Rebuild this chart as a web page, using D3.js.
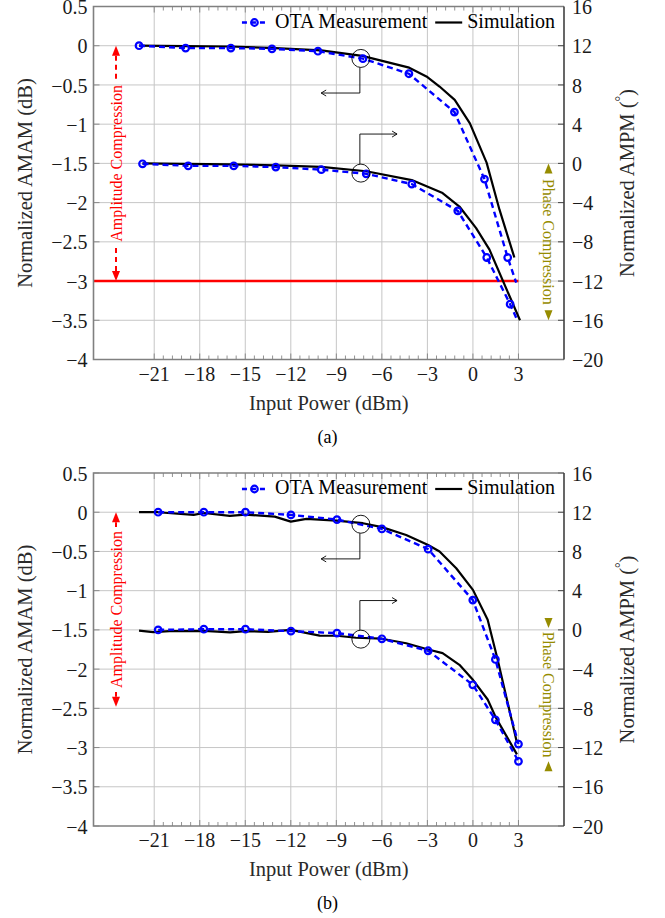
<!DOCTYPE html>
<html><head><meta charset="utf-8">
<script src="https://cdn.jsdelivr.net/npm/d3@7"></script>
<style>body{margin:0;background:#fff}svg{display:block}
svg text{font-family:"Liberation Serif","Tinos","Times New Roman","DejaVu Serif",serif;}</style>
</head><body>
<script>
// ---------- data ----------
const xTicks = [-21, -18, -15, -12, -9, -6, -3, 0, 3];
const amamTicks = [0.5, 0, -0.5, -1, -1.5, -2, -2.5, -3, -3.5, -4];
const ampmTicks = [16, 12, 8, 4, 0, -4, -8, -12, -16, -20];
const legendLabels = ["OTA Measurement", "Simulation"];

// Panel (a)
const aAmamMeas = [[-22.0,0],[-18.93,-0.03],[-15.95,-0.03],[-13.24,-0.04],[-10.21,-0.07],[-7.25,-0.165],[-4.22,-0.357],[-1.22,-0.846],[0.76,-1.70],[2.29,-2.70]];
const aAmamMeasTail = [[2.85,-3.02]];
const aAmamSim = [[-22,0],[-19,-0.005],[-16,-0.01],[-13,-0.03],[-10,-0.06],[-7.3,-0.13],[-4.2,-0.28],[-3,-0.4],[-2.2,-0.52],[-1.2,-0.69],[-0.2,-0.99],[0.9,-1.49],[1.75,-2.09],[2.73,-2.70]];
const aAmpmMeas = [[-21.77,-0.04],[-18.76,-0.25],[-15.76,-0.25],[-12.99,-0.38],[-9.99,-0.64],[-7.03,-1.06],[-4.03,-2.11],[-1.0,-4.84],[0.91,-9.6],[2.45,-14.36]];
const aAmpmMeasTail = [[2.95,-16.1]];
const aAmpmSim = [[-21.77,0],[-19,-0.05],[-16,-0.1],[-13,-0.2],[-10,-0.35],[-7.03,-0.8],[-4.03,-1.7],[-2,-3.03],[-0.89,-4.4],[0.21,-6.6],[1.09,-8.8],[3.1,-16]];

// Panel (b)
const bAmamMeas = [[-20.74,0],[-17.73,0],[-14.99,0],[-11.99,-0.034],[-8.96,-0.094],[-6.0,-0.213],[-2.95,-0.471],[-0.01,-1.12],[1.48,-1.877],[3.0,-2.955]];
const bAmamSim = [[-22,0],[-20.74,0],[-18.4,-0.034],[-17.73,-0.01],[-16.02,-0.047],[-14.99,-0.03],[-13.06,-0.056],[-12.0,-0.12],[-10.97,-0.085],[-9,-0.107],[-7.25,-0.14],[-6,-0.19],[-4.4,-0.29],[-2.95,-0.417],[-2.2,-0.50],[-1.1,-0.714],[0,-0.99],[0.97,-1.372],[1.63,-1.88],[2.9,-2.94]];
const bAmpmMeas = [[-20.74,0],[-17.73,0.07],[-14.99,0.07],[-11.99,-0.13],[-8.96,-0.33],[-6.0,-0.91],[-2.95,-2.13],[-0.01,-5.6],[1.48,-9.17],[3.0,-13.4]];
const bAmpmSim = [[-22,-0.08],[-21.07,-0.23],[-20,-0.12],[-17.7,-0.1],[-16,-0.25],[-15,-0.12],[-13.5,-0.2],[-12,0],[-10.1,-0.58],[-8.96,-0.6],[-7.7,-0.8],[-6,-0.9],[-4.4,-1.36],[-2.95,-2.0],[-2,-2.37],[-0.89,-3.56],[0,-5.09],[0.97,-7.1],[1.53,-9.0],[2.9,-12.7]];

// annotation anchors (data units)
const compressionLevel = -3;           // red line in (a)
const aAmpArrow = [0, -3];            // dB
const aPhaseArrow = [0, -16];         // deg
const bAmpArrow = [0, -2.48];
const bPhaseArrow = [0, -13.4];
const aCircles = {x: -7.45, c1: -0.162, c2: -1.624, knee1: -0.603, knee2: -1.126, left: -10, right: -5};
const bCircles = {x: -7.45, c1: -0.153, c2: -1.618, knee1: -0.595, knee2: -1.126, left: -10, right: -5};

// ---------- layout ----------
const W = 665, H = 918;
const L = 93.5, R = 564, PH = 353;
const BLUE = "#0000ff", RED = "#ff0000", OLIVE = "#968c00";
const svg = d3.select("body").append("svg").attr("width", W).attr("height", H);

const fmt = d3.format("~g");
const minus = s => s.replace("-", "\u2212");

function panel(top, cfg) {
  const g = svg.append("g");
  const x = d3.scaleLinear().domain([-25, 6]).range([L, R]);
  const y = d3.scaleLinear().domain([-4, 0.5]).range([top + PH, top]);
  const y2 = d3.scaleLinear().domain([-20, 16]).range([top + PH, top]);
  const B = top + PH;

  // grid
  g.append("g").selectAll("line").data(xTicks).join("line")
    .attr("x1", d => x(d)).attr("x2", d => x(d)).attr("y1", top).attr("y2", B)
    .attr("stroke", "#c6c6c6").attr("stroke-width", 1);
  g.append("g").selectAll("line").data(amamTicks.slice(1, -1)).join("line")
    .attr("x1", L).attr("x2", R).attr("y1", d => y(d)).attr("y2", d => y(d))
    .attr("stroke", "#c6c6c6").attr("stroke-width", 1);

  // minor x ticks
  const minors = [];
  for (let i = 0; i < xTicks.length - 1; i++)
    for (let k = 1; k < 5; k++) minors.push(xTicks[i] + k * 0.6);
  const tk = g.append("g").attr("stroke", "#777").attr("stroke-width", 0.8);
  minors.forEach(m => {
    tk.append("line").attr("x1", x(m)).attr("x2", x(m)).attr("y1", B).attr("y2", B - 4);
    tk.append("line").attr("x1", x(m)).attr("x2", x(m)).attr("y1", top).attr("y2", top + 4);
  });
  xTicks.forEach(m => {
    tk.append("line").attr("x1", x(m)).attr("x2", x(m)).attr("y1", B).attr("y2", B - 6);
    tk.append("line").attr("x1", x(m)).attr("x2", x(m)).attr("y1", top).attr("y2", top + 6);
  });
  amamTicks.forEach(v => {
    tk.append("line").attr("x1", L).attr("x2", L + 6).attr("y1", y(v)).attr("y2", y(v));
  });
  ampmTicks.forEach(v => {
    g.append("line").attr("x1", R).attr("x2", R - 6).attr("y1", y2(v)).attr("y2", y2(v))
      .attr("stroke", "#444").attr("stroke-width", 1);
  });

  // red -3 dB line
  if (cfg.redLine) {
    g.append("line").attr("x1", x(-25)).attr("x2", x(3))
      .attr("y1", y(compressionLevel)).attr("y2", y(compressionLevel))
      .attr("stroke", RED).attr("stroke-width", 2.6);
  }

  const lineL = d3.line().x(d => x(d[0])).y(d => y(d[1]));
  const lineR = d3.line().x(d => x(d[0])).y(d => y2(d[1]));

  // simulation lines
  g.append("path").attr("d", lineL(cfg.amamSim)).attr("fill", "none")
    .attr("stroke", "#000").attr("stroke-width", 2.2).attr("stroke-linejoin", "round");
  g.append("path").attr("d", lineR(cfg.ampmSim)).attr("fill", "none")
    .attr("stroke", "#000").attr("stroke-width", 2.2).attr("stroke-linejoin", "round");

  // measured dashed lines
  g.append("path").attr("d", lineL(cfg.amamMeas.concat(cfg.amamTail || []))).attr("fill", "none")
    .attr("stroke", BLUE).attr("stroke-width", 2.4).attr("stroke-dasharray", "6,4");
  g.append("path").attr("d", lineR(cfg.ampmMeas.concat(cfg.ampmTail || []))).attr("fill", "none")
    .attr("stroke", BLUE).attr("stroke-width", 2.4).attr("stroke-dasharray", "6,4");

  // markers
  g.append("g").selectAll("circle").data(cfg.amamMeas).join("circle")
    .attr("cx", d => x(d[0])).attr("cy", d => y(d[1])).attr("r", 3.3)
    .attr("fill", "none").attr("stroke", BLUE).attr("stroke-width", 2.2);
  g.append("g").selectAll("circle").data(cfg.ampmMeas).join("circle")
    .attr("cx", d => x(d[0])).attr("cy", d => y2(d[1])).attr("r", 3.3)
    .attr("fill", "none").attr("stroke", BLUE).attr("stroke-width", 2.2);

  // circle annotations
  const c = cfg.circ, cr = 9, cx = x(c.x);
  const ann = g.append("g").attr("stroke", "#000").attr("stroke-width", 0.9).attr("fill", "none");
  ann.append("circle").attr("cx", cx + 1).attr("cy", y(c.c1)).attr("r", cr);
  ann.append("circle").attr("cx", cx + 1).attr("cy", y(c.c2)).attr("r", cr);
  ann.append("path").attr("d", `M${cx},${y(c.c1) + cr}V${y(c.knee1)}H${x(c.left)}`);
  ann.append("path").attr("d", `M${x(c.left) + 5},${y(c.knee1) - 3}L${x(c.left)},${y(c.knee1)}L${x(c.left) + 5},${y(c.knee1) + 3}`);
  ann.append("path").attr("d", `M${cx},${y(c.c2) - cr}V${y(c.knee2)}H${x(c.right)}`);
  ann.append("path").attr("d", `M${x(c.right) - 5},${y(c.knee2) - 3}L${x(c.right)},${y(c.knee2)}L${x(c.right) - 5},${y(c.knee2) + 3}`);

  // compression arrows
  function tri(px, tipY, dir, col) { // dir -1: points up, +1: points down
    g.append("path").attr("d", `M${px},${tipY}L${px - 4},${tipY - dir * 10}L${px + 4},${tipY - dir * 10}Z`).attr("fill", col);
  }
  function compArrow(px, yTop, yBot, label, col, rot, inward) {
    const t = g.append("text").text(label).attr("font-size", 16).attr("fill", col)
      .attr("dominant-baseline", "central").attr("text-anchor", "middle")
      .attr("transform", `translate(${px},${(yTop + yBot) / 2}) rotate(${rot})`);
    const len = t.node().getComputedTextLength();
    const tTop = (yTop + yBot) / 2 - len / 2 - 4, tBot = (yTop + yBot) / 2 + len / 2 + 4;
    if (inward) {
      tri(px, yTop, 1, col); tri(px, yBot, -1, col);
    } else {
      tri(px, yTop, -1, col); tri(px, yBot, 1, col);
      if (tTop - (yTop + 10) > 3)
        g.append("line").attr("x1", px).attr("x2", px).attr("y1", yTop + 10).attr("y2", tTop)
          .attr("stroke", col).attr("stroke-width", 2).attr("stroke-dasharray", "5,4");
      if ((yBot - 10) - tBot > 3)
        g.append("line").attr("x1", px).attr("x2", px).attr("y1", yBot - 10).attr("y2", tBot)
          .attr("stroke", col).attr("stroke-width", 2).attr("stroke-dasharray", "5,4");
    }
  }
  compArrow(116, y(cfg.ampArrow[0]), y(cfg.ampArrow[1]), "Amplitude Compression", RED, -90, false);
  compArrow(548.5, y2(cfg.phaseArrow[0]) - (cfg.phaseInward ? 2 : 0), y2(cfg.phaseArrow[1]), "Phase Compression", OLIVE, 90, cfg.phaseInward);

  // frame
  g.append("path").attr("d", `M${R},${top}H${L}V${B}H${R}`).attr("fill", "none")
    .attr("stroke", "#808080").attr("stroke-width", 1.6);
  g.append("line").attr("x1", R).attr("x2", R).attr("y1", top).attr("y2", B)
    .attr("stroke", "#404040").attr("stroke-width", 1.6);

  // tick labels
  const tl = g.append("g").attr("font-size", 20).attr("fill", "#1a1a1a");
  xTicks.forEach(v => tl.append("text").attr("x", x(v)).attr("y", B + 21)
    .attr("text-anchor", "middle").text(minus(fmt(v))));
  amamTicks.forEach(v => tl.append("text").attr("x", L - 6).attr("y", y(v))
    .attr("dy", "0.38em").attr("text-anchor", "end").text(minus(fmt(v))));
  ampmTicks.forEach(v => tl.append("text").attr("x", R + 8).attr("y", y2(v))
    .attr("dy", "0.38em").attr("text-anchor", "start").text(minus(fmt(v))));

  // axis labels
  g.append("text").attr("x", (L + R) / 2).attr("y", B + 50).attr("text-anchor", "middle")
    .attr("font-size", 20.5).attr("fill", "#2a2a2a").text("Input Power (dBm)");
  g.append("text").attr("transform", `translate(25,${(top + B) / 2}) rotate(-90)`)
    .attr("text-anchor", "middle").attr("dominant-baseline", "central")
    .attr("font-size", 20.5).attr("fill", "#2a2a2a").text("Normalized AMAM (dB)");
  const rl = g.append("text").attr("transform", `translate(627,${(top + B) / 2}) rotate(-90)`)
    .attr("text-anchor", "middle").attr("dominant-baseline", "central")
    .attr("font-size", 20.5).attr("fill", "#2a2a2a");
  rl.append("tspan").text("Normalized AMPM (");
  rl.append("tspan").attr("font-size", 14).attr("dy", "-0.5em").text("\u00b0");
  rl.append("tspan").attr("dy", "0.35em").text(")");

  // caption
  g.append("text").attr("x", 327.5).attr("y", B + 83).attr("text-anchor", "middle")
    .attr("font-size", 18).attr("fill", "#000").text(cfg.caption);

  // legend
  const lg = g.append("g");
  const baseY = top + 21, midY = top + 16;
  const simT = lg.append("text").attr("x", R - 9).attr("y", baseY).attr("text-anchor", "end")
    .attr("font-size", 20).attr("fill", "#000").text(legendLabels[1]);
  const simStart = R - 9 - simT.node().getComputedTextLength();
  lg.append("line").attr("x1", simStart - 32).attr("x2", simStart - 5).attr("y1", midY).attr("y2", midY)
    .attr("stroke", "#000").attr("stroke-width", 2.2);
  const otaEnd = simStart - 40;
  const otaT = lg.append("text").attr("x", otaEnd).attr("y", baseY).attr("text-anchor", "end")
    .attr("font-size", 20).attr("fill", "#000").text(legendLabels[0]);
  const otaStart = otaEnd - otaT.node().getComputedTextLength();
  lg.append("line").attr("x1", otaStart - 33).attr("x2", otaStart - 8).attr("y1", midY).attr("y2", midY)
    .attr("stroke", BLUE).attr("stroke-width", 2.4).attr("stroke-dasharray", "5,4");
  lg.append("circle").attr("cx", otaStart - 20.5).attr("cy", midY).attr("r", 3.3)
    .attr("fill", "none").attr("stroke", BLUE).attr("stroke-width", 2.2);
}

panel(6.5, {
  amamMeas: aAmamMeas, amamTail: aAmamMeasTail, amamSim: aAmamSim,
  ampmMeas: aAmpmMeas, ampmTail: aAmpmMeasTail, ampmSim: aAmpmSim,
  redLine: true, ampArrow: aAmpArrow, phaseArrow: aPhaseArrow, phaseInward: false,
  circ: aCircles, caption: "(a)"
});
panel(473, {
  amamMeas: bAmamMeas, amamSim: bAmamSim,
  ampmMeas: bAmpmMeas, ampmSim: bAmpmSim,
  redLine: false, ampArrow: bAmpArrow, phaseArrow: bPhaseArrow, phaseInward: true,
  circ: bCircles, caption: "(b)"
});
</script>
</body></html>
